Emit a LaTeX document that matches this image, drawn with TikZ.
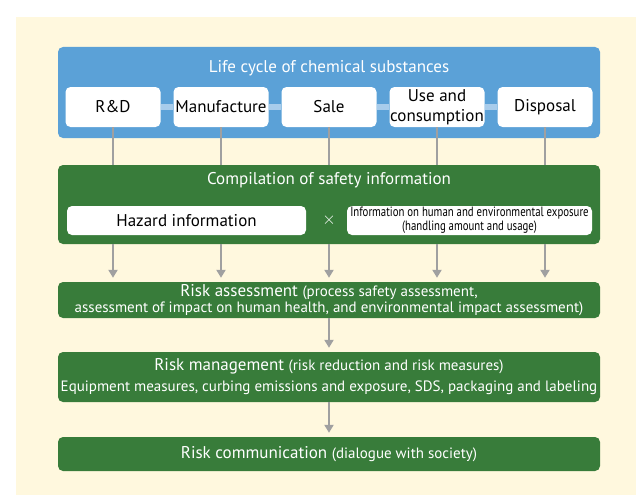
\documentclass[tikz,border=0pt]{standalone}
\usepackage{fontspec}
\setmainfont{PT Sans}
\newfontfamily\narrowfont[FakeStretch=0.8]{PT Sans}
\usetikzlibrary{arrows.meta,positioning}
\definecolor{cream}{RGB}{255,248,222}
\definecolor{lifeblue}{RGB}{91,161,215}
\definecolor{paleblue}{RGB}{168,204,235}
\definecolor{safegreen}{RGB}{56,124,58}
\definecolor{linkgray}{RGB}{160,160,160}
\newcommand\fsHead{\fontsize{17}{20}\selectfont}
\newcommand\fsParen{\fontsize{15}{15}\selectfont}
\newcommand\fsTiny{\narrowfont\fontsize{13.5}{14}\selectfont}

\begin{document}
\begin{tikzpicture}[x=1pt,y=-1pt,
  panel/.style={rounded corners=5pt,minimum width=542pt,inner sep=0pt,text=white,align=center},
  greenbox/.style={panel,fill=safegreen},
  whitebox/.style={fill=white,rounded corners=5pt,inner sep=0pt,align=center},
  stage/.style={whitebox,minimum width=95pt,minimum height=40pt,font=\fsHead},
  headline/.style={text=white,font=\fsHead,inner sep=0pt},
  link/.style={draw=linkgray,line width=2.5pt},
  flow/.style={link,-{Triangle[width=9pt,length=8pt]},shorten >=4pt},
  chain/.style={draw=paleblue,line width=5.5pt}
]
\useasboundingbox (0,0) rectangle (636,495);
\fill[cream] (16,17) rectangle (636,495);
% life cycle
\node[panel,fill=lifeblue,minimum height=91pt] (life) at (329,92.5) {};
\node[headline] (lifetitle) at (329,68) {Life cycle of chemical substances};
\foreach \n/\x/\t in {rd/113/R\&D,mfg/221/Manufacture,sale/329/Sale,use/437/{Use and\\consumption},disp/545/Disposal}
  \node[stage] (\n) at (\x,107) {\t};
\foreach \a/\b in {rd/mfg,mfg/sale,sale/use,use/disp}
  \draw[chain] (\a) -- (\b);
% safety information
\node[greenbox,minimum height=79pt] (safety) at (329,204.5) {};
\node[headline] (safetytitle) at (329,180) {Compilation of safety information};
\node[whitebox,minimum width=239pt,minimum height=29pt,font=\fsHead] (hazard) at (186.5,220.5) {Hazard information};
\node[headline,font=\fontsize{19}{19}\selectfont] (times) at (329,220) {$\times$};
\node[whitebox,minimum width=245pt,minimum height=29pt,font=\fsTiny] (exposure) at (469.5,220.5) {Information on human and environmental exposure\\(handling amount and usage)};
% risk steps
\node[greenbox,minimum height=36pt,font=\fsHead] (assess) at (329,300) {Risk assessment {\fsParen(process safety assessment,}\\[-4pt]{\fsParen assessment of impact on human health, and environmental impact assessment)}};
\node[greenbox,minimum height=50pt,font=\fsHead] (manage) at (329,377) {Risk management {\fsParen(risk reduction and risk measures)}\\[1pt]{\fsParen Equipment measures, curbing emissions and exposure, SDS, packaging and labeling}};
\node[greenbox,minimum height=34pt,font=\fsHead] (comm) at (329,454) {Risk communication {\fsParen(dialogue with society)}};
\foreach \n in {rd,mfg,sale,use,disp} {
  \draw[link] (\n.south) -- (\n.south |- safety.north);
  \draw[flow] (\n |- safety.south) -- (\n |- assess.north);
}
\draw[flow] (assess) -- (manage);
\draw[flow] (manage) -- (comm);
\end{tikzpicture}
\end{document}
